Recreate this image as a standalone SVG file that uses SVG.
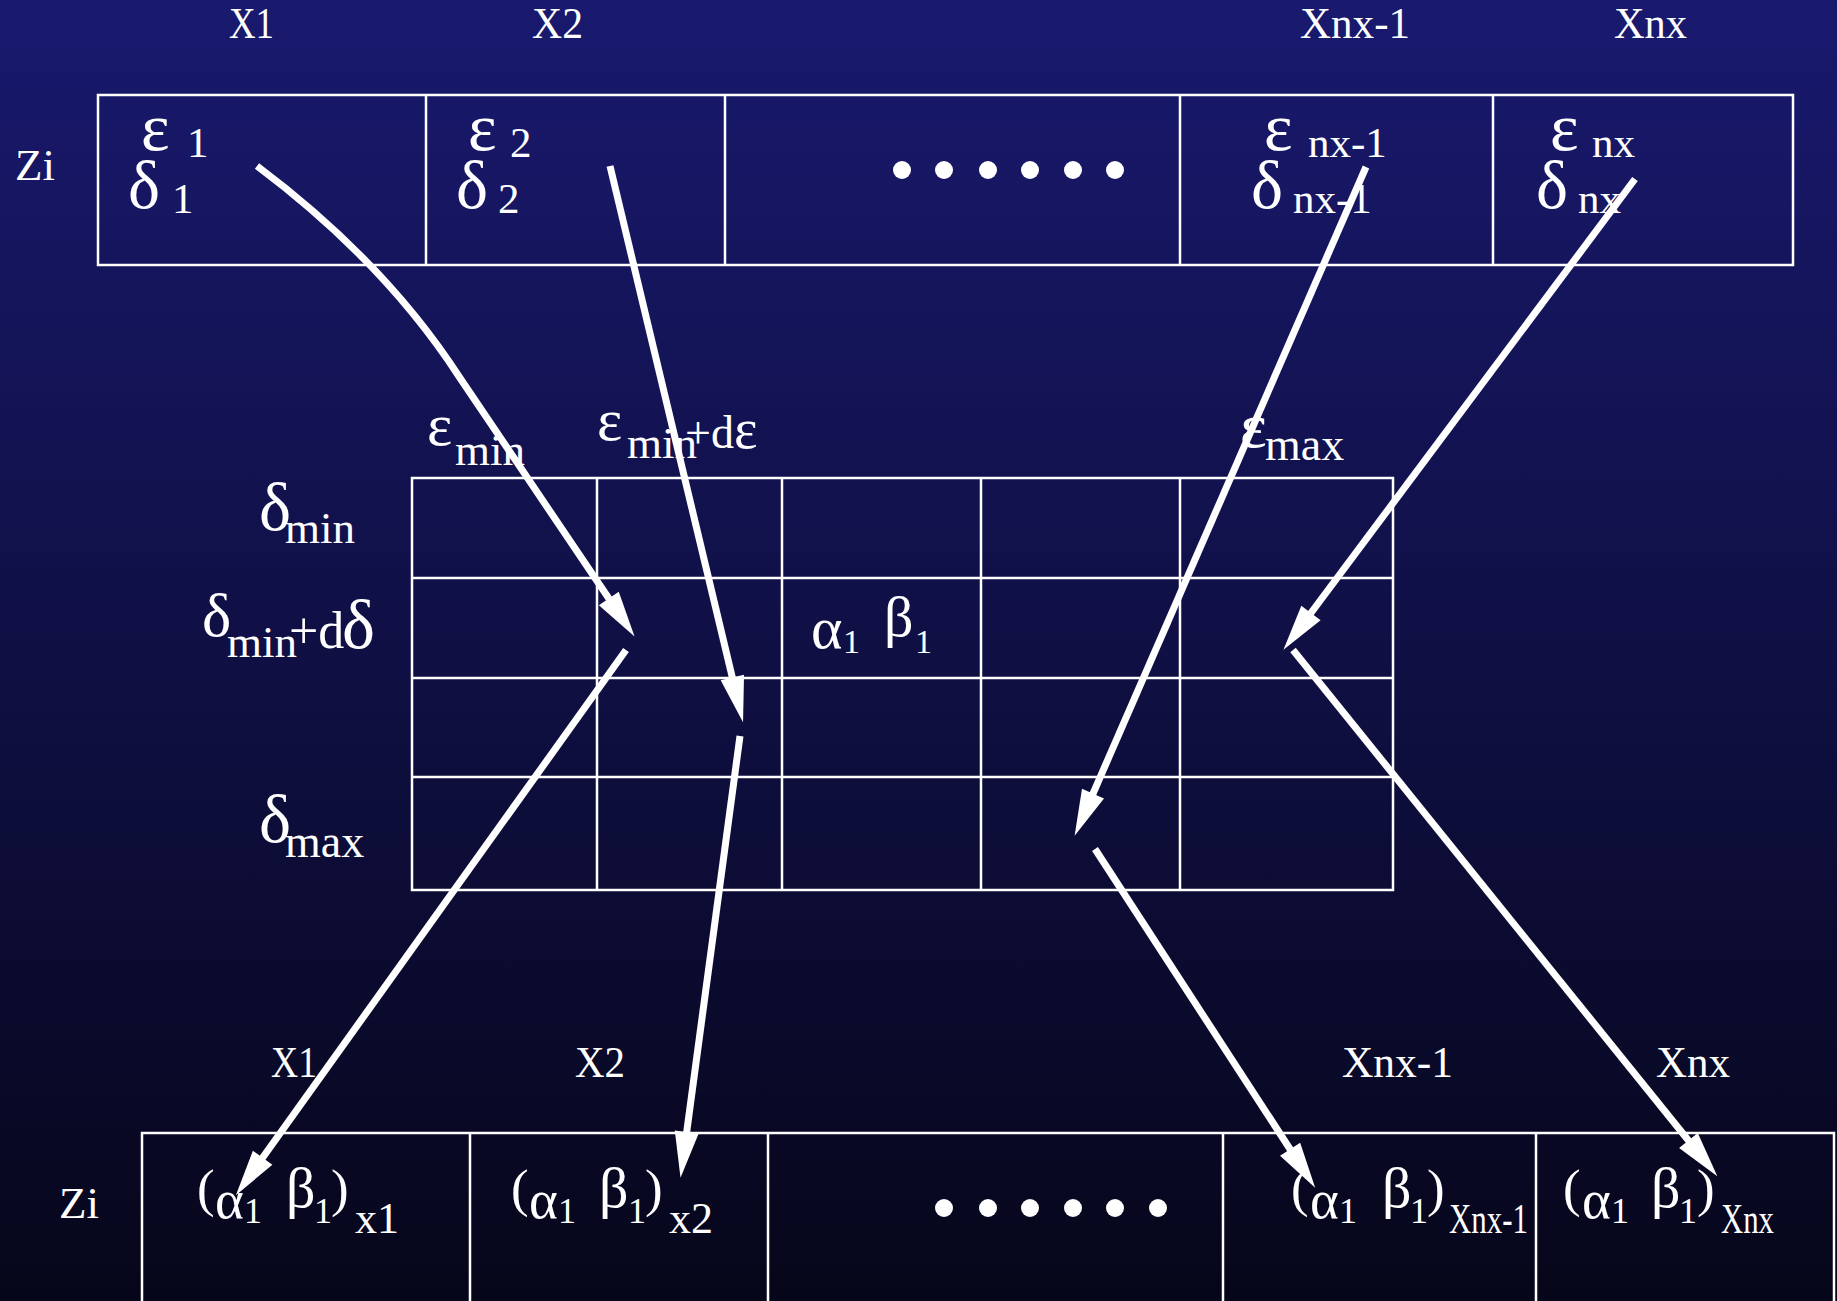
<svg xmlns="http://www.w3.org/2000/svg" width="1837" height="1301" viewBox="0 0 1837 1301">
<defs>
<linearGradient id="bg" x1="0" y1="0" x2="0" y2="1">
<stop offset="0" stop-color="#19196f"/>
<stop offset="1" stop-color="#06061a"/>
</linearGradient>
<marker id="ah" markerUnits="userSpaceOnUse" viewBox="0 -15 50 30" markerWidth="50" markerHeight="30" refX="20" refY="0" orient="auto" overflow="visible">
<path d="M0,-12 L46,0 L0,12 Z" fill="#fff"/>
</marker>
<style>
.box{fill:none;stroke:#fff;stroke-width:2.5}
.t{font-family:"Liberation Serif","Times New Roman",serif;fill:#fff}
.lbl{font-size:45px}
.gt{font-size:68px}
.st{font-size:43px}
.sm{font-size:45px}
.ga{font-size:58px}
.gb{font-size:55px}
.s1{font-size:36px}
.pr{font-size:53px}
.dot{fill:#fff}
.c{stroke:#fff;stroke-width:7;fill:none;marker-end:url(#ah)}
</style>
</defs>
<rect x="0" y="0" width="1837" height="1301" fill="url(#bg)"/>

<g id="top-labels" class="t lbl">
<text x="229" y="38" textLength="45" lengthAdjust="spacingAndGlyphs">X1</text>
<text x="532" y="38" textLength="51" lengthAdjust="spacingAndGlyphs">X2</text>
<text x="1300" y="38" textLength="110" lengthAdjust="spacingAndGlyphs">Xnx-1</text>
<text x="1614" y="38" textLength="73" lengthAdjust="spacingAndGlyphs">Xnx</text>
<text x="15" y="180">Zi</text>
</g>

<g id="top-row">
<rect class="box" x="98" y="95" width="1695" height="170"/>
<path class="box" d="M426,95V265M725,95V265M1180,95V265M1493,95V265"/>
<g id="top-cell-1" class="t">
<text><tspan class="gt" x="141" y="150">ε</tspan><tspan class="st" x="187" y="157">1</tspan><tspan class="gt" x="128" y="208">δ</tspan><tspan class="st" x="172" y="213">1</tspan></text>
</g>
<g id="top-cell-2" class="t">
<text><tspan class="gt" x="468" y="150">ε</tspan><tspan class="st" x="510" y="157">2</tspan><tspan class="gt" x="456" y="208">δ</tspan><tspan class="st" x="498" y="213">2</tspan></text>
</g>
<g id="top-dots" class="dot">
<circle cx="902" cy="170" r="9"/><circle cx="944" cy="170" r="9"/><circle cx="988" cy="170" r="9"/>
<circle cx="1030" cy="170" r="9"/><circle cx="1073" cy="170" r="9"/><circle cx="1115" cy="170" r="9"/>
</g>
<g id="top-cell-nx-1" class="t">
<text><tspan class="gt" x="1264" y="150">ε</tspan><tspan class="st" x="1308" y="157">nx-1</tspan><tspan class="gt" x="1251" y="208">δ</tspan><tspan class="st" x="1293" y="213">nx-1</tspan></text>
</g>
<g id="top-cell-nx" class="t">
<text><tspan class="gt" x="1550" y="150">ε</tspan><tspan class="st" x="1592" y="157">nx</tspan><tspan class="gt" x="1536" y="208">δ</tspan><tspan class="st" x="1578" y="213">nx</tspan></text>
</g>
</g>

<g id="grid">
<rect class="box" x="412" y="478" width="981" height="412"/>
<path class="box" d="M597,478V890M782,478V890M981,478V890M1180,478V890M412,578H1393M412,678H1393M412,777H1393"/>
<g id="cell-alpha-beta" class="t">
<text><tspan x="811" y="648" style="font-size:60px">α</tspan><tspan x="843" y="653" style="font-size:34px">1</tspan><tspan x="884" y="636" class="ga">β</tspan><tspan x="915" y="653" style="font-size:34px">1</tspan></text>
</g>
</g>

<g id="grid-labels" class="t">
<text id="eps-min"><tspan x="427" y="445" style="font-size:60px">ε</tspan><tspan class="sm" x="455" y="465">min</tspan></text>
<text id="eps-min-de"><tspan x="597" y="440" style="font-size:60px">ε</tspan><tspan class="sm" x="627" y="458">min</tspan><tspan x="685" y="448" style="font-size:46px">+d</tspan><tspan x="734" y="448" style="font-size:56px">ε</tspan></text>
<text id="eps-max"><tspan x="1240" y="447" style="font-size:64px">ε</tspan><tspan x="1265" y="460" style="font-size:46px">max</tspan></text>
<text id="del-min"><tspan x="259" y="530" class="gt">δ</tspan><tspan class="sm" x="285" y="543">min</tspan></text>
<text id="del-min-dd"><tspan x="202" y="636" style="font-size:62px">δ</tspan><tspan class="sm" x="227" y="657">min</tspan><tspan x="289" y="648" style="font-size:52px">+d</tspan><tspan x="342" y="648" style="font-size:70px">δ</tspan></text>
<text id="del-max"><tspan x="259" y="842" class="gt">δ</tspan><tspan x="285" y="857" style="font-size:46px">max</tspan></text>
</g>

<g id="bottom-labels" class="t lbl">
<text x="271" y="1077" textLength="46" lengthAdjust="spacingAndGlyphs">X1</text>
<text x="575" y="1077" textLength="50" lengthAdjust="spacingAndGlyphs">X2</text>
<text x="1342" y="1077" textLength="111" lengthAdjust="spacingAndGlyphs">Xnx-1</text>
<text x="1656" y="1077" textLength="74" lengthAdjust="spacingAndGlyphs">Xnx</text>
<text x="59" y="1218">Zi</text>
</g>

<g id="bottom-row">
<path class="box" d="M142,1310V1133H1834V1310M470,1133V1310M768,1133V1310M1223,1133V1310M1536,1133V1310"/>
<g id="bottom-cell-1" class="t">
<text><tspan class="pr" x="197" y="1206">(</tspan><tspan class="gb" x="215" y="1218">α</tspan><tspan class="s1" x="244" y="1223">1</tspan><tspan class="ga" x="286" y="1207">β</tspan><tspan class="s1" x="314" y="1223">1</tspan><tspan class="pr" x="331" y="1206">)</tspan><tspan x="355" y="1233" style="font-size:44px">x1</tspan></text>
</g>
<g id="bottom-cell-2" class="t">
<text><tspan class="pr" x="511" y="1206">(</tspan><tspan class="gb" x="529" y="1218">α</tspan><tspan class="s1" x="558" y="1223">1</tspan><tspan class="ga" x="599" y="1207">β</tspan><tspan class="s1" x="628" y="1223">1</tspan><tspan class="pr" x="645" y="1206">)</tspan><tspan x="669" y="1233" style="font-size:44px">x2</tspan></text>
</g>
<g id="bottom-dots" class="dot">
<circle cx="944" cy="1208" r="9"/><circle cx="988" cy="1208" r="9"/><circle cx="1030" cy="1208" r="9"/>
<circle cx="1073" cy="1208" r="9"/><circle cx="1115" cy="1208" r="9"/><circle cx="1158" cy="1208" r="9"/>
</g>
<g id="bottom-cell-nx-1" class="t">
<text><tspan class="pr" x="1291" y="1206">(</tspan><tspan class="gb" x="1310" y="1218">α</tspan><tspan class="s1" x="1339" y="1223">1</tspan><tspan class="ga" x="1382" y="1207">β</tspan><tspan class="s1" x="1410" y="1223">1</tspan><tspan class="pr" x="1427" y="1206">)</tspan></text>
<text x="1449" y="1233" style="font-size:42px" textLength="79" lengthAdjust="spacingAndGlyphs">Xnx-1</text>
</g>
<g id="bottom-cell-nx" class="t">
<text><tspan class="pr" x="1563" y="1206">(</tspan><tspan class="gb" x="1582" y="1218">α</tspan><tspan class="s1" x="1611" y="1223">1</tspan><tspan class="ga" x="1651" y="1207">β</tspan><tspan class="s1" x="1679" y="1223">1</tspan><tspan class="pr" x="1697" y="1206">)</tspan></text>
<text x="1721" y="1233" style="font-size:42px" textLength="53" lengthAdjust="spacingAndGlyphs">Xnx</text>
</g>
</g>

<g id="connectors">
<path class="c" d="M257,166 Q385,262 460,378 L620,615"/>
<path class="c" d="M610,166 L737,697"/>
<path class="c" d="M1366,167 L1085,812"/>
<path class="c" d="M1635,179 L1299,629"/>
<path class="c" d="M626,650 L251,1174"/>
<path class="c" d="M740,736 L684,1152"/>
<path class="c" d="M1095,849 L1301,1166"/>
<path class="c" d="M1293,650 L1701,1156"/>
</g>
</svg>
